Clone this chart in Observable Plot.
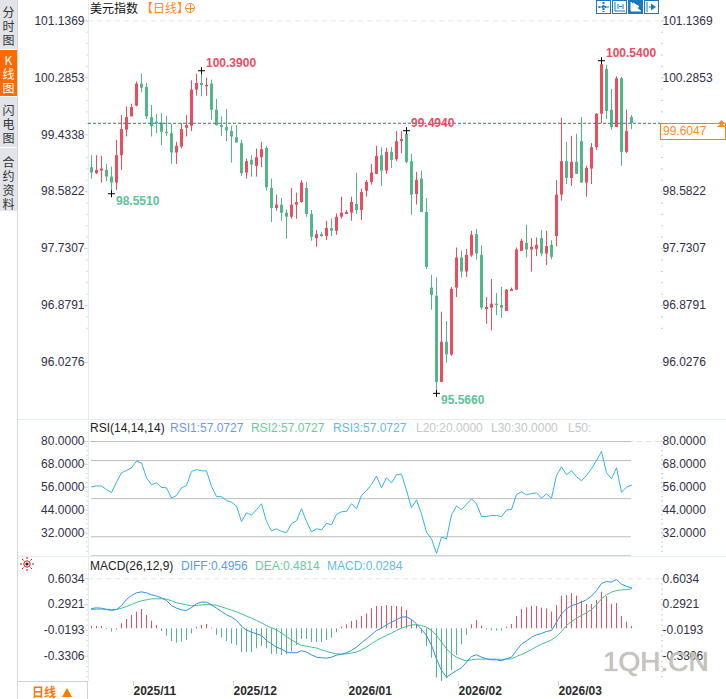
<!DOCTYPE html>
<html>
<head>
<meta charset="utf-8">
<script src="https://cdn.jsdelivr.net/npm/d3@7"></script>
<script src="https://cdn.jsdelivr.net/npm/@observablehq/plot@0.6"></script>
<style>
  html, body { margin: 0; padding: 0; background: #fff; }
  #page { position: relative; width: 726px; height: 699px; overflow: hidden; background: #fff;
    font-family: "Liberation Sans", "Noto Sans CJK SC", sans-serif; font-size: 12px; }
  #page > div, #page > span { position: absolute; }
  .panel { position: absolute; left: 0; }
  .panel svg { display: block; background: transparent; }
  .t { white-space: nowrap; line-height: 14px; }
  .side { left: 0; width: 17px; background: #e2e4ea; }
  .side span { position: absolute; left: 0; width: 17px; color: #333; line-height: 17px; letter-spacing: 2px;
    writing-mode: vertical-rl; text-orientation: upright; white-space: nowrap;
    font-family: "Noto Sans CJK SC", sans-serif; font-size: 12px; }
  .btn { top: 0; width: 13px; height: 12px; border: 1px solid #1a78c2; color: #1a78c2; }
  .btn svg { display: block; }
</style>
</head>
<body>
<div id="page">
  <div class="side" style="top:0;height:49px"><span style="top:6px">分时图</span></div>
  <div class="side" style="top:50px;height:46px;background:#ff6a00"><span style="top:4px;color:#fff">K线图</span></div>
  <div class="side" style="top:97px;height:50px"><span style="top:7px">闪电图</span></div>
  <div class="side" style="top:148px;height:63px"><span style="top:8px">合约资料</span></div>
  <div style="left:17px;top:0;width:1px;height:699px;background:#d3d8e0"></div>
  <div style="left:88px;top:0;width:1px;height:681px;background:#e4edf2"></div>
  <div style="left:18px;top:419px;width:708px;height:1px;background:#e6edf2"></div>
  <div style="left:18px;top:556px;width:708px;height:1px;background:#e6edf2"></div>

  <div id="main" class="panel" style="top:0"></div>
  <div id="rsi" class="panel" style="top:420px"></div>
  <div id="macd" class="panel" style="top:557px"></div>

  <span class="t" style="left:90px;top:1px;color:#111;font-family:'Noto Sans CJK SC'">美元指数</span>
  <span class="t" style="left:141px;top:1px;color:#ff8a1e;font-family:'Noto Sans CJK SC'">【日线】</span>
  <div style="left:185px;top:3px;width:8px;height:8px;border:1px solid #ff8a1e;border-radius:50%;background:linear-gradient(#ff8a1e,#ff8a1e) center/8px 1px no-repeat,linear-gradient(#ff8a1e,#ff8a1e) center/1px 8px no-repeat"></div>

  <div class="btn" style="left:596px"><svg width="13" height="12"><path d="M6.5 1v10M1.5 6h10" stroke="#1a78c2" stroke-width="2" stroke-dasharray="2 1" fill="none"/></svg></div>
  <div class="btn" style="left:612px"><svg width="13" height="12"><path d="M2 1v9h10M5 3v5M10 3v5M6 5.5h3" stroke="#1a78c2" fill="none"/></svg></div>
  <div class="btn" style="left:628px;background:#1a78c2"><svg width="13" height="12"><path d="M2 1v9h10M4 2v7l6-3.5z" stroke="#fff" fill="#fff"/></svg></div>
  <div class="btn" style="left:644px"><svg width="13" height="12"><path d="M2 1v10M4 6h3" stroke="#1a78c2" fill="none"/><path d="M6 2.5v7l5-3.5z" fill="#1a78c2"/></svg></div>

  <span class="t" style="left:90px;top:421px;color:#222">RSI(14,14,14)</span>
  <span class="t" style="left:170px;top:421px;color:#6c98f5">RSI1:57.0727</span>
  <span class="t" style="left:251px;top:421px;color:#62cf9b">RSI2:57.0727</span>
  <span class="t" style="left:333px;top:421px;color:#5dbcee">RSI3:57.0727</span>
  <span class="t" style="left:416px;top:421px;color:#c6c6c6">L20:20.0000</span>
  <span class="t" style="left:491px;top:421px;color:#c6c6c6">L30:30.0000</span>
  <span class="t" style="left:568px;top:421px;color:#c6c6c6">L50:</span>

  <span class="t" style="left:90px;top:559px;color:#222">MACD(26,12,9)</span>
  <span class="t" style="left:181px;top:559px;color:#5a9cf0">DIFF:0.4956</span>
  <span class="t" style="left:255px;top:559px;color:#62cf9b">DEA:0.4814</span>
  <span class="t" style="left:327px;top:559px;color:#5dbcee">MACD:0.0284</span>

  <div style="left:20px;top:557px"><svg width="14" height="14"><g stroke="#e01010" stroke-width="1" fill="none"><circle cx="7" cy="7" r="3.2"/><path d="M7 0v2M7 12v2M0 7h2M12 7h2M2 2l1.5 1.5M10.5 10.5L12 12M12 2l-1.5 1.5M3.5 10.5L2 12"/></g><circle cx="7" cy="7" r="1.6" fill="#222"/></svg></div>

  <div style="left:18px;top:681px;width:70px;height:18px;border-top:1px solid #ccd3dc;border-right:1px solid #ccd3dc;box-sizing:border-box"></div>
  <span class="t" style="left:32px;top:685px;color:#f57c00;font-weight:bold;font-family:'Noto Sans CJK SC'">日线</span>
  <div style="left:62px;top:686px"><svg width="10" height="9"><path d="M5 0L10 9H0z" fill="#f57c00"/></svg></div>

  <div class="t" style="left:660px;top:123px;width:66px;height:17px;box-sizing:border-box;border:1px solid #ff7f00;color:#ff8a1e;padding-left:2px;line-height:15px">99.6047</div>
  <div style="left:717px;top:116px"><svg width="9" height="7"><path d="M4.5 0L8 3.5H1zM4.5 3L9 7H0z" fill="#ff8a1e"/></svg></div>

  <span class="t" style="left:603px;top:646px;font-size:28px;line-height:32px;color:#c8c3bc;text-shadow:0 0 1px #a39d94">1QH.CN</span>
</div>
<script>
// x is the session index, 0 = first candle in the window
const open = [
  98.94,98.85,98.89,98.90,98.80,98.71,99.12,99.50,99.70,99.86,
  100.19,100.14,99.69,99.62,99.61,99.47,99.45,99.16,99.25,99.53,
  99.56,100.10,100.20,100.15,100.19,99.80,99.57,99.54,99.48,99.39,
  99.30,98.86,99.05,98.96,99.09,99.23,98.63,98.33,98.38,98.26,
  98.20,98.38,98.42,98.63,98.24,97.88,97.94,97.91,98.03,97.99,
  98.20,98.24,98.26,98.39,98.30,98.59,98.72,98.84,99.12,98.89,
  99.17,99.06,99.33,99.44,99.03,98.54,98.77,98.27,97.14,97.02,
  95.73,96.33,96.14,97.14,97.59,97.38,97.62,97.94,97.63,96.82,
  96.84,96.90,96.88,96.79,97.09,97.11,97.69,97.81,97.71,97.72,
  97.88,97.65,97.78,97.91,98.53,99.03,98.78,99.02,99.33,98.71,
  98.92,99.24,99.74,100.41,99.80,99.54,100.27,99.17,99.69];
const close = [
  98.86,98.90,98.92,98.80,98.71,99.12,99.51,99.69,99.84,100.19,
  100.13,99.70,99.55,99.60,99.47,99.45,99.16,99.26,99.51,99.57,
  100.10,100.20,100.17,100.17,99.80,99.57,99.54,99.49,99.40,99.31,
  98.85,99.03,98.98,99.09,99.21,98.64,98.33,98.38,98.26,98.20,
  98.38,98.42,98.71,98.24,97.90,97.94,97.91,98.03,97.99,98.20,
  98.26,98.27,98.42,98.30,98.57,98.72,98.86,99.11,98.89,99.17,
  99.05,99.33,99.36,99.02,98.53,98.75,98.27,97.45,97.03,95.73,
  96.33,96.14,97.12,97.59,97.38,97.63,97.93,97.65,96.84,96.85,
  96.90,96.88,96.84,97.11,97.12,97.71,97.84,97.71,97.75,97.78,
  97.65,97.76,97.60,98.53,99.03,98.78,99.02,98.84,98.71,98.93,
  99.24,99.74,100.48,99.78,99.54,100.27,99.17,99.48,99.60];
const high = [
  99.12,99.12,99.11,98.99,98.95,99.35,99.72,99.85,99.89,100.22,
  100.34,100.20,99.87,99.74,99.75,99.71,99.59,99.32,99.60,99.72,
  100.24,100.34,100.39,100.28,100.25,99.96,99.70,99.81,99.56,99.57,
  99.35,99.07,99.12,99.22,99.32,99.26,98.77,98.53,98.48,98.31,
  98.63,98.56,98.75,98.72,98.30,98.00,97.97,98.14,98.17,98.25,
  98.50,98.30,98.50,98.86,98.62,98.75,98.99,99.26,99.24,99.23,
  99.24,99.48,99.48,99.494,99.14,98.87,98.89,98.48,97.33,97.29,
  96.78,96.64,97.15,97.74,97.69,97.72,97.99,98.02,97.77,97.00,
  97.27,97.06,97.15,97.12,97.14,97.74,97.87,98.08,97.88,97.89,
  98.00,97.99,97.85,98.75,99.68,99.32,99.41,99.44,99.69,98.96,
  99.30,99.75,100.54,100.47,100.11,100.30,100.29,99.80,99.72];
const low = [
  98.77,98.84,98.71,98.73,98.551,98.60,98.90,99.40,99.70,99.85,
  100.06,99.66,99.40,99.45,99.27,99.41,98.99,98.99,99.22,99.40,
  99.48,100.01,100.00,100.01,99.65,99.56,99.41,99.33,99.01,99.31,
  98.81,98.77,98.80,98.80,98.94,98.59,98.12,98.29,98.14,97.87,
  98.17,98.17,98.41,98.20,97.84,97.75,97.90,97.85,97.91,97.93,
  98.17,98.24,98.14,98.24,98.15,98.50,98.68,98.84,98.66,98.84,
  98.93,99.03,99.15,99.00,98.23,98.38,98.27,97.42,96.81,95.566,
  95.73,96.02,96.12,97.00,97.29,97.30,97.60,97.56,96.81,96.60,
  96.50,96.73,96.69,96.79,97.09,97.11,97.69,97.59,97.38,97.61,
  97.61,97.48,97.56,97.76,98.44,98.69,98.66,98.84,98.71,98.50,
  98.69,99.20,99.60,99.66,99.50,99.54,98.96,99.15,99.51];

const rsi = [
  56.2,56.7,56.6,54.8,53.2,58.7,63.6,64.8,66.2,69.7,
  68.8,60.9,57.3,58.3,55.9,55.7,50.3,51.7,55.7,56.9,
  64.3,65.3,64.6,64.6,56.4,51.1,51.0,49.0,48.2,46.1,
  38.0,42.6,41.3,44.3,47.3,38.0,33.1,34.2,32.8,32.1,
  36.8,38.4,44.7,38.0,32.6,34.2,33.6,37.0,36.3,41.7,
  43.1,43.3,47.3,44.7,51.7,54.3,57.4,61.8,55.7,60.9,
  58.3,62.5,63.0,54.3,45.2,49.4,42.0,32.4,28.9,21.2,
  29.8,28.9,41.5,46.2,44.1,47.1,49.9,47.3,40.6,40.6,
  41.2,41.2,40.5,44.1,44.3,52.2,53.6,52.0,52.7,53.1,
  50.3,52.5,50.3,62.2,66.7,62.5,64.6,61.5,59.4,62.2,
  65.7,70.0,74.8,63.6,60.4,66.2,53.4,56.0,57.07];

const diff = [
  .245,.253,.249,.233,.221,.233,.281,.354,.402,.434,
  .446,.434,.410,.394,.374,.342,.281,.249,.229,.221,
  .257,.302,.322,.322,.289,.249,.209,.169,.141,.101,
  .032,-.016,-.040,-.060,-.080,-.141,-.181,-.221,-.245,-.281,
  -.289,-.289,-.265,-.281,-.314,-.342,-.350,-.354,-.342,-.318,
  -.306,-.289,-.261,-.221,-.169,-.121,-.072,-.020,.008,.048,
  .080,.109,.141,.145,.113,.060,-.008,-.080,-.201,-.362,
  -.503,-.583,-.543,-.503,-.470,-.402,-.334,-.314,-.342,-.362,
  -.374,-.374,-.386,-.362,-.342,-.261,-.185,-.145,-.101,-.072,
  -.056,-.032,-.020,.080,.181,.241,.281,.297,.322,.350,
  .394,.462,.547,.571,.563,.595,.539,.511,.4956];
const dea = [
  .233,.237,.237,.237,.233,.233,.249,.269,.293,.318,
  .338,.350,.362,.362,.362,.358,.338,.314,.302,.289,
  .277,.281,.289,.293,.289,.285,.265,.245,.225,.205,
  .181,.153,.129,.101,.072,.040,.012,-.012,-.052,-.092,
  -.133,-.169,-.201,-.209,-.221,-.233,-.253,-.273,-.289,-.302,
  -.306,-.302,-.293,-.281,-.253,-.221,-.181,-.141,-.109,-.080,
  -.052,-.020,.008,.028,.048,.048,.040,.020,-.020,-.080,
  -.161,-.241,-.302,-.342,-.370,-.386,-.374,-.366,-.366,-.366,
  -.366,-.366,-.370,-.366,-.362,-.334,-.310,-.281,-.249,-.217,
  -.185,-.161,-.133,-.092,-.032,.040,.088,.129,.161,.193,
  .233,.289,.362,.410,.442,.462,.470,.474,.4814];
const macd = [
  .028,.028,.028,-.008,-.040,-.016,.060,.113,.161,.201,
  .233,.161,.092,.040,-.032,-.088,-.153,-.173,-.161,-.141,
  -.060,.020,.040,.052,.008,-.080,-.109,-.153,-.185,-.201,
  -.285,-.285,-.289,-.241,-.213,-.241,-.310,-.310,-.322,-.314,
  -.281,-.201,-.129,-.129,-.165,-.165,-.165,-.141,-.113,-.048,
  .020,.048,.088,.101,.149,.181,.241,.269,.269,.281,
  .269,.269,.261,.221,.101,.048,-.060,-.213,-.354,-.595,
  -.635,-.603,-.503,-.322,-.193,-.080,.048,.101,.032,-.016,
  -.024,-.028,-.028,.020,.052,.149,.233,.253,.269,.269,
  .249,.241,.201,.281,.394,.402,.426,.394,.334,.293,
  .293,.342,.442,.386,.297,.306,.149,.080,.0284];

const priceTicks = [101.1369,100.2853,99.4338,98.5822,97.7307,96.8791,96.0276];
const priceTicksRight = [101.1369,100.2853,98.5822,97.7307,96.8791,96.0276]; // 99.4338 sits under the last price box
const rsiTicks = [80,68,56,44,32];
const rsiLevels = [80,70,50,30,20];
const macdTicks = [0.6034,0.2921,-0.0193,-0.3306];
const monthIndex = [8,28,51,73,93];
const monthLabels = ["2025/11","2025/12","2026/01","2026/02","2026/03"];

const lastPrice = 99.6047;
const markIndex = [22,4,63,102,69];
const markPrice = [100.39,98.551,99.494,100.54,95.566];

const RED = "#ee4b5e", GREEN = "#52b788", TICK = "#c8dbe6", INK = "#30304a";
const W = 726, X0 = 91, X1 = 631;
const fmt = (d) => d.toFixed(4);

const candles = open.map((o, i) => ({ i, o, c: close[i], h: high[i], l: low[i], color: close[i] >= o ? RED : GREEN }));
const marks = markIndex.map((i, k) => ({ i, p: markPrice[k], up: k != 1 && k != 4 }));
const histogram = macd.map((v, i) => ({ i, v, color: v >= 0 ? RED : GREEN }));

// left + right axis pair, the same on all three panels
function axes(ticks, minor, rightTicks = ticks) {
  return [
    Plot.axisY(minor, { anchor: "left", tickSize: 2, tickFormat: null, stroke: "#d5dde3", label: null, tickPadding: 0, text: null }),
    Plot.axisY(minor, { anchor: "right", tickSize: 2, tickFormat: null, stroke: "#c9cdd2", label: null, tickPadding: 0, text: null }),
    Plot.axisY(ticks, { anchor: "left", tickSize: 4, tickPadding: 0, stroke: TICK, fill: INK, tickFormat: fmt, label: null }),
    Plot.axisY(rightTicks, { anchor: "right", tickSize: 3, tickPadding: -1, stroke: TICK, fill: INK, tickFormat: fmt, label: null }),
  ];
}

const base = {
  width: W,
  marginLeft: 88,
  marginRight: 66,
  marginTop: 0,
  style: { fontFamily: "Liberation Sans", fontSize: "12px", background: "transparent", color: INK },
};

const mainChart = Plot.plot({
  ...base,
  height: 418,
  marginBottom: 0,
  x: { type: "linear", domain: [0, 108], range: [X0, X1], axis: null },
  y: { domain: [96.0276, 101.1369], range: [362, 20.3] },
  color: { type: "identity" },
  marks: [
    ...axes(priceTicks, d3.range(0, 28).map((k) => 101.1369 - k * 0.1703), priceTicksRight),
    Plot.ruleY([101.1369], { stroke: "#e5ecea", strokeDasharray: "5,4" }),
    Plot.ruleX(candles, { x: "i", y1: "l", y2: "h", stroke: "color", strokeWidth: 1 }),
    Plot.ruleX(candles, { x: "i", y1: "o", y2: "c", stroke: "color", strokeWidth: 3 }),
    Plot.ruleY([lastPrice], { stroke: "#1677d9", strokeDasharray: "3,2" }),
    Plot.dot(marks, { x: "i", y: "p", symbol: "plus", r: 2.4, stroke: "#000", strokeWidth: 1 }),
    Plot.text(marks.filter((d) => d.up), { x: "i", y: "p", text: (d) => fmt(d.p), textAnchor: "start", dx: 4.5, dy: -8, fill: RED, fontWeight: "bold" }),
    Plot.text(marks.filter((d) => !d.up), { x: "i", y: "p", text: (d) => fmt(d.p), textAnchor: "start", dx: 4.5, dy: 7, fill: "#5cc497", fontWeight: "bold" }),
  ],
});
d3.select("#main").append(() => mainChart);

const rsiChart = Plot.plot({
  ...base,
  height: 136,
  marginBottom: 0,
  x: { type: "linear", domain: [0, 108], range: [X0, X1], axis: null },
  y: { domain: [20, 80], range: [135.3, 21] },
  marks: [
    ...axes(rsiTicks, d3.range(0, 25).map((k) => 80 - k * 2.4)),
    Plot.ruleY([80], { stroke: "#e5e5e5", strokeDasharray: "5,4" }),
    Plot.ruleY(rsiLevels, { x1: 0, x2: 108, stroke: "#bdbdbd" }),
    Plot.line(rsi, { x: (d, i) => i, y: (d) => d, stroke: "#31b4ea", strokeWidth: 1 }),
  ],
});
d3.select("#rsi").append(() => rsiChart);

const macdChart = Plot.plot({
  ...base,
  height: 142,
  marginBottom: 18,
  x: { type: "linear", domain: [0, 108], range: [X0, X1] },
  y: { domain: [-0.3306, 0.6034], range: [98.7, 21.3] },
  color: { type: "identity" },
  marks: [
    ...axes(macdTicks, d3.range(0, 20).map((k) => 0.6034 - k * 0.06226)),
    Plot.ruleY([0.6034], { stroke: "#e5e5e5", strokeDasharray: "5,4" }),
    Plot.ruleX(histogram, { x: "i", y1: 0, y2: "v", stroke: "color", strokeWidth: 1, clip: "frame" }),
    Plot.line(dea, { x: (d, i) => i, y: (d) => d, stroke: "#3cc48a", strokeWidth: 1 }),
    Plot.line(diff, { x: (d, i) => i, y: (d) => d, stroke: "#2e8ff0", strokeWidth: 1 }),
    Plot.axisX(monthIndex, {
      anchor: "bottom",
      tickSize: 5,
      tickPadding: 0,
      stroke: "#ccd3dc",
      fill: "#2b2b2b",
      fontWeight: "bold",
      textAnchor: "start",
      dx: 2,
      label: null,
      tickFormat: (d) => monthLabels[monthIndex.indexOf(d)],
    }),
  ],
});
d3.select("#macd").append(() => macdChart);
</script>
</body>
</html>
